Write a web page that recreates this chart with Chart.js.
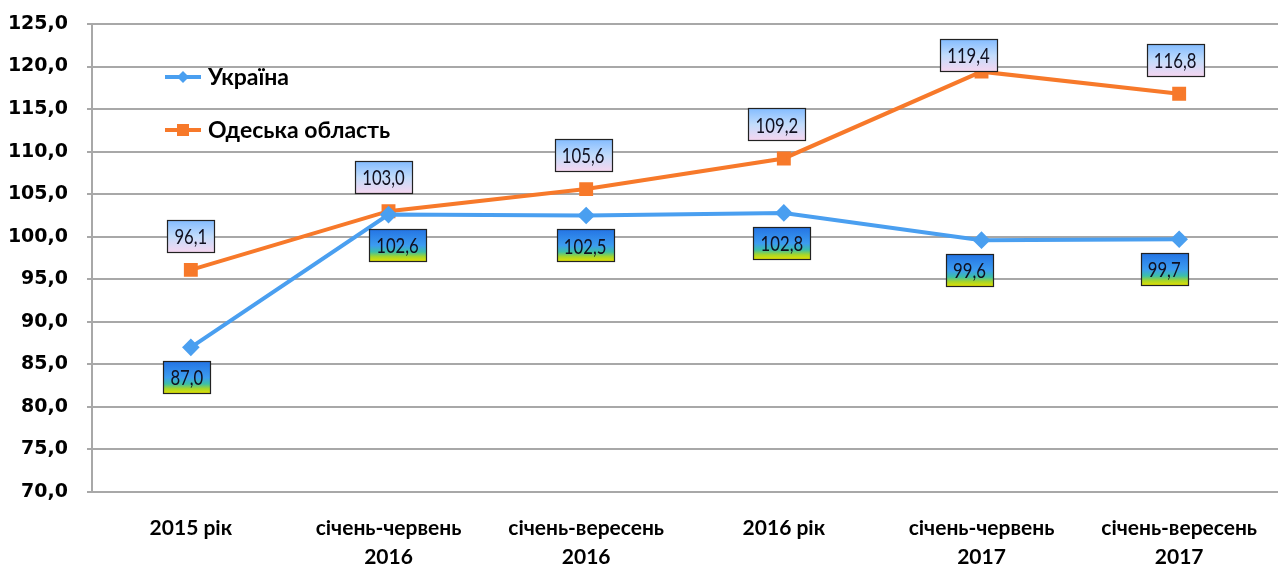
<!DOCTYPE html>
<html>
<head>
<meta charset="utf-8">
<script src="https://cdn.jsdelivr.net/npm/chart.js@4.4.1/dist/chart.umd.min.js"></script>
<style>
  body { margin: 0; background: #fff; }
</style>
</head>
<body>
<canvas id="grafico" width="1281" height="568"></canvas>
<script>
const periodos = [
    '2015 рік',
    ['січень-червень', '2016'],
    ['січень-вересень', '2016'],
    '2016 рік',
    ['січень-червень', '2017'],
    ['січень-вересень', '2017']
];
const ukraina = [87.0, 102.6, 102.5, 102.8, 99.6, 99.7];
const odesa = [96.1, 103.0, 105.6, 109.2, 119.4, 116.8];
const nazvy = ['Україна', 'Одеська область'];

const fmt = v => v.toFixed(1).replace('.', ',');

// boxes with values, Ukraine below the line, Odesa above
const etiquetas = {
    id: 'etiquetas',
    afterDatasetsDraw(chart) {
        const ctx = chart.ctx;
        const cfg = [
            { dy: 30, dx: [-4, 9, -1, -2, -12, -15],
              stops: [[0, '#2474e4'], [0.5, '#3c9cf0'], [0.7, '#3cbfa8'], [0.85, '#a6d62a'], [1, '#e6e000']] },
            { dy: -34, dx: [0, -5, -3, -7, -13, -4],
              stops: [[0, '#84bcff'], [0.5, '#c2dcfb'], [1, '#f6d6f0']] }
        ];
        chart.data.datasets.forEach((ds, di) => {
            const meta = chart.getDatasetMeta(di);
            const c = cfg[di];
            meta.data.forEach((pt, i) => {
                let dy = c.dy;
                if (di === 1 && i === 4) dy = -17;
                const txt = fmt(ds.data[i]);
                ctx.save();
                ctx.font = '22px Lato, "Open Sans", sans-serif';
                const sx = 0.76;
                const tw = ctx.measureText(txt).width * sx;
                const w = Math.round(tw + 14);
                const h = 32;
                const cx = pt.x + c.dx[i];
                const cy = pt.y + dy;
                const x0 = Math.round(cx - w / 2) + 0.5, y0 = Math.round(cy - h / 2) + 0.5;
                const g = ctx.createLinearGradient(0, y0, 0, y0 + h);
                c.stops.forEach(s => g.addColorStop(s[0], s[1]));
                ctx.fillStyle = g;
                ctx.fillRect(x0, y0, w, h);
                ctx.strokeStyle = '#222';
                ctx.lineWidth = 1.2;
                ctx.strokeRect(x0, y0, w, h);
                ctx.fillStyle = '#101020';
                ctx.textAlign = 'center';
                ctx.textBaseline = 'middle';
                ctx.translate(cx, cy + 1);
                ctx.scale(sx, 1);
                ctx.fillText(txt, 0, 0);
                ctx.restore();
            });
        });
    }
};

// legend inside the plot
const leyenda = {
    id: 'leyenda',
    afterDraw(chart) {
        const ctx = chart.ctx;
        const ys = [77, 130];
        chart.data.datasets.forEach((ds, i) => {
            const y = ys[i];
            ctx.save();
            ctx.strokeStyle = ds.borderColor;
            ctx.lineWidth = 4;
            ctx.beginPath();
            ctx.moveTo(165, y);
            ctx.lineTo(201, y);
            ctx.stroke();
            ctx.fillStyle = ds.borderColor;
            if (i === 0) {
                ctx.beginPath();
                ctx.moveTo(183, y - 6);
                ctx.lineTo(189, y);
                ctx.lineTo(183, y + 6);
                ctx.lineTo(177, y);
                ctx.closePath();
                ctx.fill();
            } else {
                ctx.fillRect(177, y - 6, 12, 12);
            }
            ctx.fillStyle = '#000';
            ctx.font = 'bold 23px Lato, "Open Sans", sans-serif';
            ctx.textBaseline = 'middle';
            ctx.fillText(ds.label, 208, y + 1);
            ctx.restore();
        });
    }
};

const bgColor = {
    id: 'bgColor',
    beforeDraw: (chart) => {
        const { ctx, width, height } = chart;
        ctx.save();
        ctx.fillStyle = 'white';
        ctx.fillRect(0, 0, width, height);
        ctx.restore();
    }
};

const ctx = document.getElementById('grafico').getContext('2d');
const myChart = new Chart(ctx, {
    type: 'line',
    data: {
        labels: periodos,
        datasets: [{
            label: nazvy[0],
            data: ukraina,
            borderColor: '#4a9ff0',
            backgroundColor: '#4a9ff0',
            borderWidth: 4,
            pointStyle: 'rectRot',
            pointRadius: 6,
            pointHoverRadius: 6,
            tension: 0
        }, {
            label: nazvy[1],
            data: odesa,
            borderColor: '#f7792a',
            backgroundColor: '#f7792a',
            borderWidth: 4,
            pointStyle: 'rect',
            pointRadius: 7,
            pointHoverRadius: 7,
            tension: 0
        }]
    },
    options: {
        responsive: false,
        animation: false,
        layout: { autoPadding: false, padding: { top: 24, right: 3, left: 0, bottom: 0 } },
        plugins: {
            legend: { display: false },
            tooltip: { enabled: false }
        },
        scales: {
            x: {
                offset: true,
                grid: { display: false },
                border: { display: false },
                ticks: {
                    color: '#000',
                    font: { family: 'Lato, "Open Sans", sans-serif', size: 21, weight: 'bold', lineHeight: 1.38 },
                    padding: 14,
                    maxRotation: 0,
                    autoSkip: false
                },
                afterFit: (scale) => {
                    scale.height = 76;
                    scale.paddingLeft = 0;
                    scale.paddingRight = 0;
                }
            },
            y: {
                min: 70,
                max: 125,
                ticks: {
                    stepSize: 5,
                    color: '#000',
                    font: { family: '"DejaVu Sans", sans-serif', size: 19, weight: 'bold' },
                    padding: 19,
                    callback: v => fmt(v)
                },
                grid: { color: '#a8a8a8', lineWidth: 2, tickLength: 5 },
                border: { color: '#a8a8a8', width: 2 },
                afterFit: (scale) => {
                    scale.width = 92;
                    scale.paddingTop = 0;
                    scale.paddingBottom = 0;
                }
            }
        }
    },
    plugins: [bgColor, etiquetas, leyenda]
});
</script>
</body>
</html>
